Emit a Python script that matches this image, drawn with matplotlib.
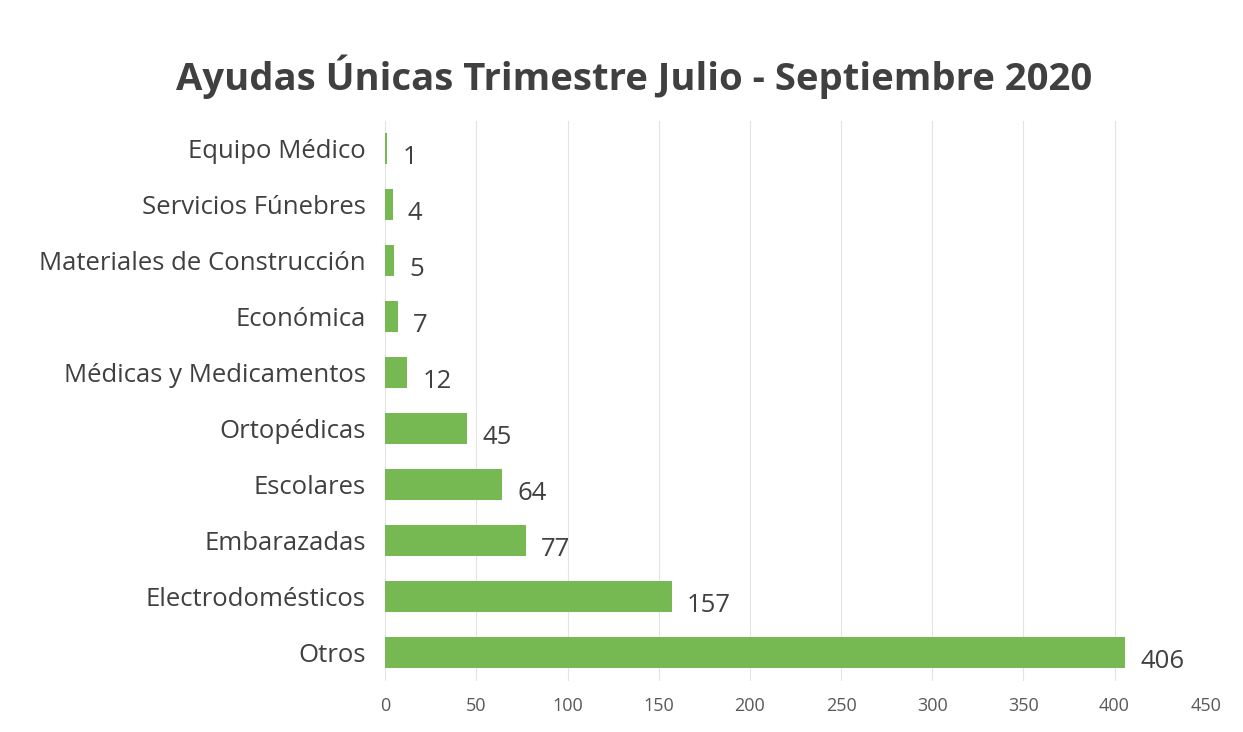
import matplotlib
matplotlib.use("Agg")
import matplotlib.pyplot as plt

# data, top to bottom as in the chart
categories = ['Equipo Médico', 'Servicios Fúnebres', 'Materiales de Construcción',
              'Económica', 'Médicas y Medicamentos', 'Ortopédicas', 'Escolares',
              'Embarazadas', 'Electrodomésticos', 'Otros']
values = [1, 4, 5, 7, 12, 45, 64, 77, 157, 406]
xticks = [0, 50, 100, 150, 200, 250, 300, 350, 400, 450]

plt.rcParams['font.family'] = ['Open Sans', 'DejaVu Sans']

fig = plt.figure(figsize=(12.43, 7.32), dpi=100)
ax = fig.add_axes([0.31, 0.07, 0.66, 0.765])

ypos = list(range(len(categories)))
bars = ax.barh(ypos, values, height=0.55, color='#76B852')
ax.set_ylim(len(categories) - 0.5, -0.5)
ax.set_xlim(0, 450)
ax.set_yticks(ypos)
ax.set_yticklabels(categories, fontsize=18.5, color='#404040')
ax.set_xticks(xticks)
ax.set_xticklabels([str(t) for t in xticks], fontsize=13, color='#595959')
ax.tick_params(axis='both', length=0, pad=14)
ax.tick_params(axis='x', pad=12)

for b, v in zip(bars, values):
    ax.annotate(str(v), (b.get_width(), b.get_y() + b.get_height() / 2),
                xytext=(11, -6), textcoords='offset points',
                va='center', ha='left', fontsize=18.5, color='#404040')

ax.grid(axis='x', color='#e3e3e3', linewidth=0.8)
ax.set_axisbelow(True)
for s in ax.spines.values():
    s.set_visible(False)

fig.suptitle('Ayudas Únicas Trimestre Julio - Septiembre 2020', x=0.51, y=0.925,
             fontsize=27.5, fontweight='bold', color='#404040')

fig.savefig('out.png', dpi=100, facecolor='white')
